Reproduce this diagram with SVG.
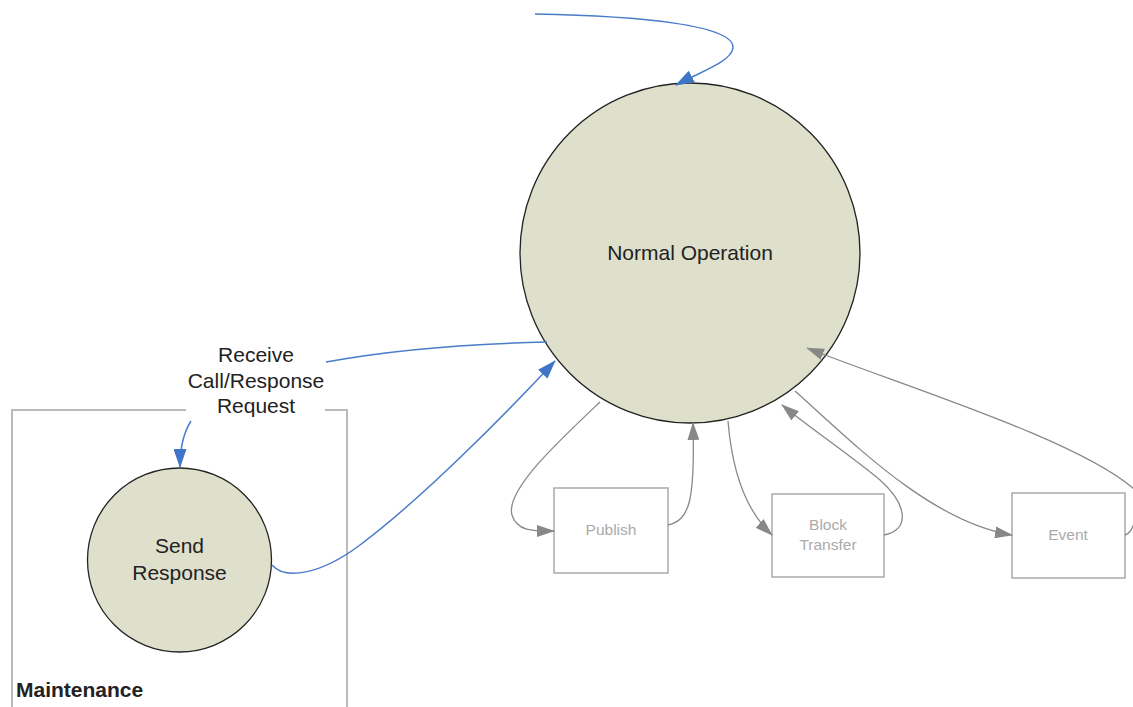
<svg xmlns="http://www.w3.org/2000/svg" width="1133" height="707" viewBox="0 0 1133 707">
<style>
.state{fill:#dfe0cc;stroke:#222;stroke-width:1.3}
.st{font-family:"Liberation Sans",Arial,sans-serif;font-size:21px;fill:#222;text-anchor:middle}
.box{fill:#fff;stroke:#aaa;stroke-width:1.5}
.bt{font-family:"Liberation Sans",Arial,sans-serif;font-size:15.5px;fill:#aaa;text-anchor:middle}
.blue{fill:none;stroke:#4a7cc9;stroke-width:1.5}
.gray{fill:none;stroke:#888;stroke-width:1.3}
.lbl{font-family:"Liberation Sans",Arial,sans-serif;font-size:21px;fill:#222;text-anchor:middle}
</style>
<defs>
<marker id="ab" markerWidth="19" markerHeight="13" refX="18" refY="6.5" orient="auto" markerUnits="userSpaceOnUse" viewBox="0 0 19 13"><path d="M0,0 L19,6.5 L0,13 z" fill="#3f75c6"/></marker>
<marker id="ag" markerWidth="18" markerHeight="12" refX="17" refY="6" orient="auto" markerUnits="userSpaceOnUse" viewBox="0 0 18 12"><path d="M0,0 L18,6 L0,12 z" fill="#888"/></marker>
</defs>
<rect width="1133" height="707" fill="#fff"/>
<g id="maintenance">
<path d="M186,410 H12 V707 M325,410 H347 V707" fill="none" stroke="#bbb" stroke-width="2"/>
<text x="16" y="697" font-family="Liberation Sans,Arial,sans-serif" font-size="21" font-weight="bold" fill="#222">Maintenance</text>
</g>
<g id="label">
<text class="lbl" x="256" y="362">Receive</text>
<text class="lbl" x="256" y="388">Call/Response</text>
<text class="lbl" x="256" y="413">Request</text>
</g>
<g id="normal-operation">
<circle class="state" cx="690" cy="253" r="170"/>
<text class="st" x="690" y="260">Normal Operation</text>
</g>
<g id="send-response">
<circle class="state" cx="179.5" cy="560" r="92"/>
<text class="st" x="179.5" y="553">Send</text>
<text class="st" x="179.5" y="580">Response</text>
</g>
<g id="publish">
<rect class="box" x="554" y="488" width="114" height="85"/>
<text class="bt" x="611" y="535">Publish</text>
</g>
<g id="block-transfer">
<rect class="box" x="772" y="494" width="112" height="83"/>
<text class="bt" x="828" y="530">Block</text>
<text class="bt" x="828" y="550">Transfer</text>
</g>
<g id="event">
<rect class="box" x="1012" y="493" width="113" height="85"/>
<text class="bt" x="1068" y="540">Event</text>
</g>
<g id="connectors">
<path class="blue" d="M535,14 C640,16 735,25 733,48 C731,62 700,72 676,85" marker-end="url(#ab)"/>
<path class="blue" d="M547,342 C460,344 380,352 326,362"/>
<path class="blue" d="M191,421 C184,432 180,445 180,467" marker-end="url(#ab)"/>
<path class="blue" d="M272,565 C285,580 320,575 360,545 C420,500 500,420 555,361" marker-end="url(#ab)"/>
<path class="gray" d="M600,402 C560,440 505,490 512,515 C517,532 535,531 554,531" marker-end="url(#ag)"/>
<path class="gray" d="M668,525 C690,520 695,500 693,423" marker-end="url(#ag)"/>
<path class="gray" d="M728,421 C732,470 745,510 772,535" marker-end="url(#ag)"/>
<path class="gray" d="M884,535 C910,530 908,505 880,480 C850,455 810,428 782,405" marker-end="url(#ag)"/>
<path class="gray" d="M795,391 C850,440 930,522 1012,535" marker-end="url(#ag)"/>
<path class="gray" d="M1125,535 C1136,532 1140,500 1135,490 C1080,440 900,385 807,348" marker-end="url(#ag)"/>
</g>
</svg>
